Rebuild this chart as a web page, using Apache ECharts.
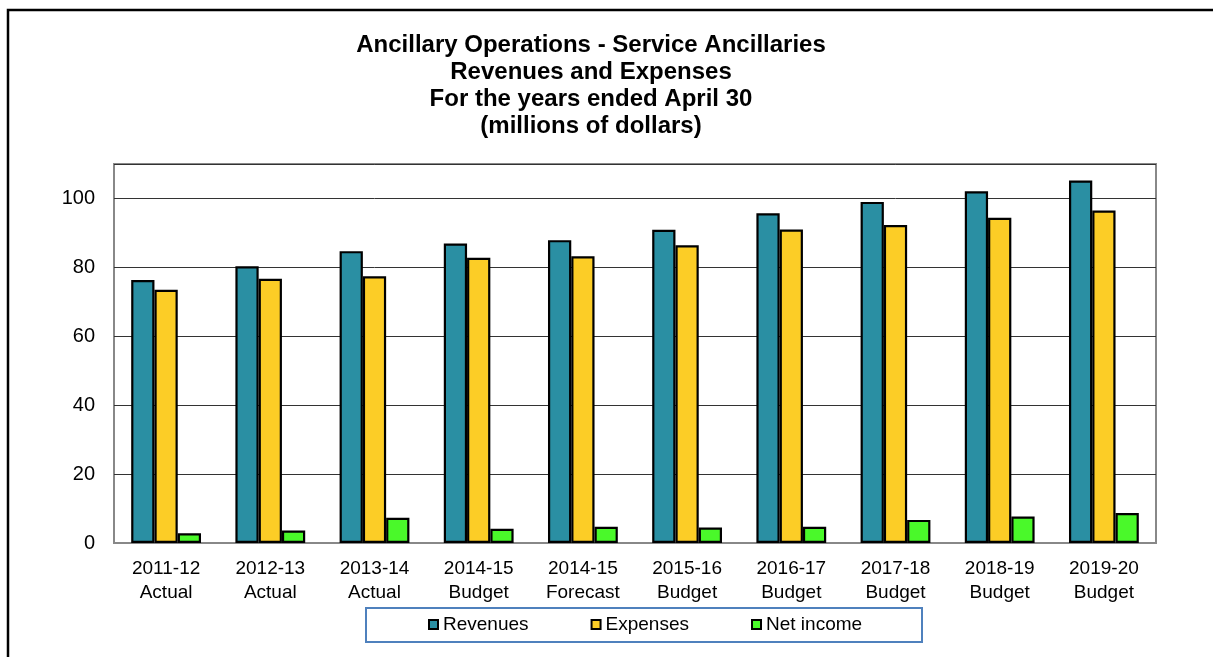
<!DOCTYPE html>
<html>
<head>
<meta charset="utf-8">
<style>
  html, body { margin: 0; padding: 0; background: #fff; }
  #chart { width: 1213px; height: 657px; }
</style>
<script src="https://cdn.jsdelivr.net/npm/echarts@6/dist/echarts.min.js"></script>
</head>
<body>
<div id="chart"></div>
<script>
// Fiscal years (two-line labels: year / status)
const categories = [
  '2011-12\nActual', '2012-13\nActual', '2013-14\nActual', '2014-15\nBudget',
  '2014-15\nForecast', '2015-16\nBudget', '2016-17\nBudget', '2017-18\nBudget',
  '2018-19\nBudget', '2019-20\nBudget'
];
// Millions of dollars
const revenues  = [76.3, 80.3, 84.7, 86.9, 87.9, 90.9, 95.7, 99.0, 102.1, 105.2];
const expenses  = [73.5, 76.7, 77.4, 82.8, 83.2, 86.4, 91.0, 92.3, 94.4, 96.5];
const netIncome = [2.8, 3.6, 7.3, 4.1, 4.7, 4.5, 4.7, 6.7, 7.7, 8.7];

const titleLines = [
  'Ancillary Operations - Service Ancillaries',
  'Revenues and Expenses',
  'For the years ended April 30',
  '(millions of dollars)'
];

const colors = { rev: '#2A8FA3', exp: '#FCCD26', net: '#4AF92A' };

const chart = echarts.init(document.getElementById('chart'), null, { renderer: 'canvas' });

function barSeries(name, data, color) {
  return {
    name: name,
    type: 'bar',
    data: data,
    barGap: '0%',
    barCategoryGap: '33%',
    itemStyle: { color: color, borderColor: '#000', borderWidth: 2.2 },
    emphasis: { disabled: true }
  };
}

chart.setOption({
  animation: false,
  backgroundColor: '#fff',
  textStyle: { fontFamily: 'Liberation Sans, Arial, sans-serif' },
  graphic: [
    {
      type: 'rect',
      shape: { x: 8, y: 10, width: 1240, height: 700 },
      style: { fill: 'none', stroke: '#000', lineWidth: 2.5 },
      silent: true, z: 100
    },
    {
      type: 'text',
      x: 591, y: 32,
      style: {
        text: titleLines.join('\n'),
        font: 'bold 24px "Liberation Sans", Arial, sans-serif',
        fill: '#000',
        textAlign: 'center',
        textVerticalAlign: 'top',
        lineHeight: 27
      },
      silent: true
    },
    {
      type: 'rect',
      shape: { x: 366, y: 608, width: 556, height: 34 },
      style: { fill: '#fff', stroke: '#4F81BD', lineWidth: 2 },
      silent: true, z: 0
    }
  ],
  legend: {
    left: 428,
    top: 615,
    padding: 0,
    itemWidth: 9,
    itemHeight: 9,
    itemGap: 62,
    icon: 'rect',
    itemStyle: { borderColor: '#000', borderWidth: 2 },
    textStyle: { fontSize: 19, color: '#000', fontFamily: 'Liberation Sans, Arial, sans-serif', padding: [0, 0, 0, 0] },
    data: ['Revenues', 'Expenses', 'Net income'],
    z: 10
  },
  grid: {
    left: 114, right: 57, top: 164, bottom: 114,
    show: true,
    borderColor: '#888',
    borderWidth: 2,
    backgroundColor: 'transparent'
  },
  xAxis: {
    type: 'category',
    data: categories,
    axisLine: { lineStyle: { color: '#888', width: 2 } },
    axisTick: { show: false },
    axisLabel: {
      interval: 0,
      margin: 14,
      fontSize: 19,
      lineHeight: 24,
      color: '#000',
      fontFamily: '"Liberation Sans Narrow", "Arial Narrow", "Liberation Sans", sans-serif'
    }
  },
  yAxis: {
    type: 'value',
    min: 0,
    max: 110,
    interval: 20,
    axisLine: { show: false },
    axisTick: { show: false },
    axisLabel: {
      fontSize: 20,
      color: '#000',
      margin: 19,
      showMaxLabel: false,
      formatter: function (v) { return v > 100 ? '' : String(v); }
    },
    splitLine: { lineStyle: { color: '#333', width: 1 } }
  },
  series: [
    barSeries('Revenues', revenues, colors.rev),
    barSeries('Expenses', expenses, colors.exp),
    barSeries('Net income', netIncome, colors.net)
  ]
});
</script>
</body>
</html>
